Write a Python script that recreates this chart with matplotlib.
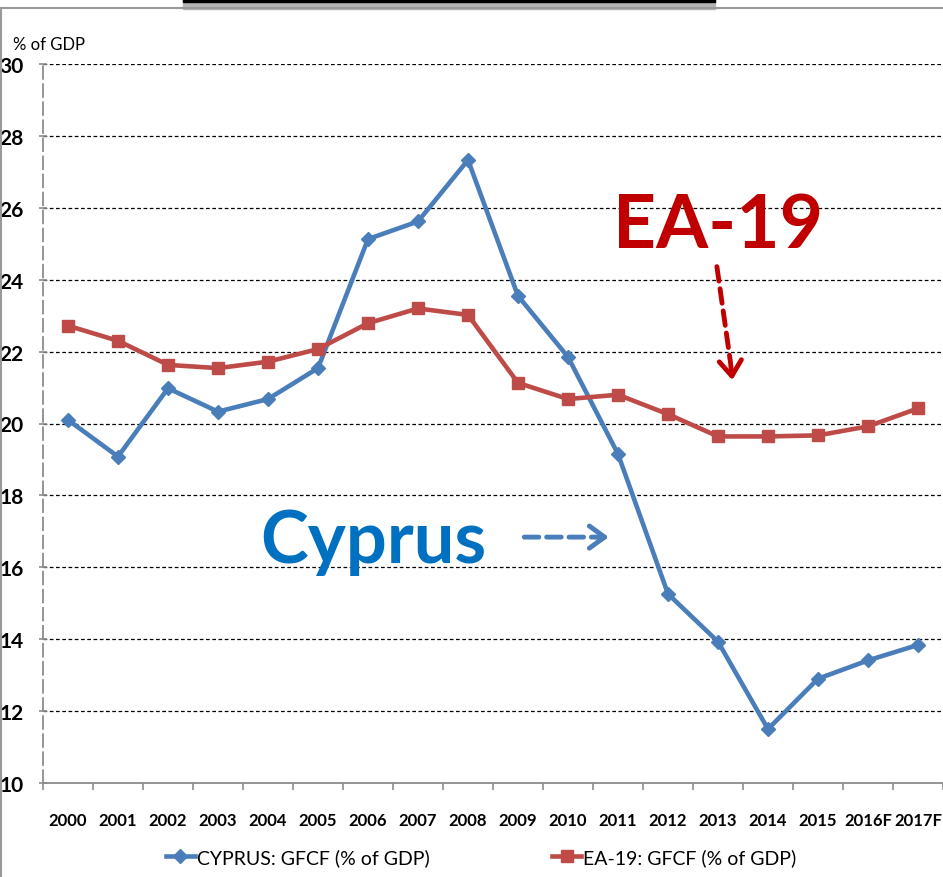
import matplotlib.pyplot as plt
import numpy as np
from matplotlib.lines import Line2D
from matplotlib.patches import Rectangle

plt.rcParams['font.family'] = ['Lato', 'DejaVu Sans']

years = ['2000', '2001', '2002', '2003', '2004', '2005', '2006', '2007', '2008',
         '2009', '2010', '2011', '2012', '2013', '2014', '2015', '2016F', '2017F']
cyprus = [20.10, 19.08, 20.98, 20.33, 20.68, 21.54, 25.13, 25.62, 27.33,
          23.55, 21.85, 19.15, 15.26, 13.93, 11.50, 12.90, 13.41, 13.84]
ea19 = [22.72, 22.30, 21.63, 21.54, 21.72, 22.07, 22.79, 23.20, 23.02,
        21.13, 20.68, 20.80, 20.26, 19.64, 19.64, 19.67, 19.92, 20.42]
yticks = [10, 12, 14, 16, 18, 20, 22, 24, 26, 28, 30]

blue = '#4A7EBB'
red = '#BE4B48'

W, H = 943, 878
fig = plt.figure(figsize=(W / 100, H / 100), dpi=100)
ax = fig.add_axes([43 / W, 94 / H, 900 / W, 719 / H])

x = np.arange(len(years))
l1, = ax.plot(x, cyprus, color=blue, lw=3.3, marker='D', ms=7.5,
              label='CYPRUS: GFCF (% of GDP)', zorder=3)
l2, = ax.plot(x, ea19, color=red, lw=3.3, marker='s', ms=8.5,
              label='EA-19: GFCF (% of GDP)', zorder=3)

ax.set_xlim(-0.5, len(years) - 0.5)
ax.set_ylim(10, 30)
ax.set_yticks(yticks)
ax.set_xticks(x)
ax.set_xticklabels(years)
ax.set_xticks(np.arange(len(years) + 1) - 0.5, minor=True)

ax.yaxis.grid(True, color='black', linestyle=(0, (3, 2)), lw=0.9)
ax.set_axisbelow(True)

for s in ['top', 'right']:
    ax.spines[s].set_visible(False)
ax.spines['left'].set_color('#8c8c8c')
ax.spines['left'].set_linestyle((0, (7, 3)))
ax.spines['left'].set_linewidth(1.3)
ax.spines['bottom'].set_color('#8c8c8c')
ax.spines['bottom'].set_linewidth(1.3)

ax.tick_params(axis='y', direction='inout', length=6, width=1.2, color='#8c8c8c',
               pad=11, labelsize=15)
ax.tick_params(axis='x', which='major', length=0, pad=21, labelsize=12)
ax.tick_params(axis='x', which='minor', direction='out', length=5, width=1.2,
               color='#8c8c8c')
for lab in ax.get_xticklabels() + ax.get_yticklabels():
    lab.set_fontweight('bold')

fig.text(13 / W, 1 - 45 / H, '% of GDP', fontsize=12, va='center', ha='left')

# annotations
ax.text(6.11, 16.15, 'Cyprus', ha='center', va='baseline', fontsize=52,
        fontweight='bold', color='#0070C0')
ax.text(13.01, 24.91, 'EA-19', ha='center', va='baseline', fontsize=54,
        fontweight='bold', color='#C00000')

ax.annotate('', xy=(10.6, 16.84), xytext=(9.07, 16.84),
            arrowprops=dict(arrowstyle='-', color=blue, lw=3.5, linestyle=(0, (3, 1.6))))
ax.annotate('', xy=(10.87, 16.84), xytext=(10.5, 16.84),
            arrowprops=dict(arrowstyle='->,head_length=0.55,head_width=0.4',
                            color=blue, lw=3.5, mutation_scale=20))
ax.annotate('', xy=(13.26, 21.6), xytext=(12.97, 24.44),
            arrowprops=dict(arrowstyle='-', color='#C00000', lw=3.5,
                            linestyle=(0, (3, 1.6))))
ax.annotate('', xy=(13.29, 21.13), xytext=(13.25, 21.7),
            arrowprops=dict(arrowstyle='->,head_length=0.55,head_width=0.4',
                            color='#C00000', lw=3.5, mutation_scale=20))

fig.legend(handles=[l1, l2], loc='center', bbox_to_anchor=(481 / W, 1 - 858 / H),
           ncol=2, frameon=False, fontsize=14, handlelength=1.5,
           handletextpad=0.1, columnspacing=6.3)

# frame decorations
fig.add_artist(Line2D([0, 1], [1 - 8.5 / H, 1 - 8.5 / H], color='#999999', lw=1.5,
                      transform=fig.transFigure))
fig.add_artist(Line2D([0.5 / W, 0.5 / W], [0, 1 - 8.5 / H], color='#999999', lw=1.5,
                      transform=fig.transFigure))
fig.add_artist(Rectangle((183 / W, 1 - 10 / H), 532 / W, 10 / H, color='#b5b5b5',
                         transform=fig.transFigure))
fig.add_artist(Rectangle((183 / W, 1 - 2.5 / H), 532 / W, 2.5 / H, color='black',
                         transform=fig.transFigure))

fig.savefig('out.png', dpi=100)
